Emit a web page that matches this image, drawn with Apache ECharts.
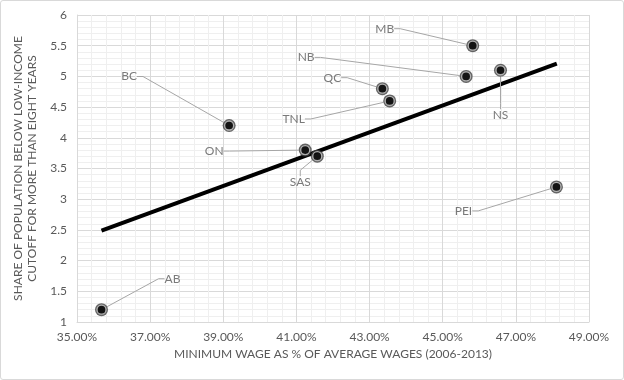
<!DOCTYPE html>
<html>
<head>
<meta charset="utf-8">
<script src="https://cdn.jsdelivr.net/npm/echarts@6/dist/echarts.min.js"></script>
<style>
html,body{margin:0;padding:0;background:#fff;}
#wrap{width:624px;height:380px;box-sizing:border-box;border:1px solid #d9d9d9;border-radius:3px;position:relative;overflow:hidden;}
#chart{position:absolute;left:-1px;top:-1px;width:624px;height:380px;}
</style>
</head>
<body>
<div id="wrap"><div id="chart"></div></div>
<script>
// Data
const provinces = ['AB', 'BC', 'ON', 'SAS', 'TNL', 'QC', 'NB', 'MB', 'NS', 'PEI'];
const minWagePct = [35.67, 39.16, 41.24, 41.57, 43.55, 43.35, 45.64, 45.82, 46.58, 48.11];
const shareLowIncome = [1.2, 4.2, 3.8, 3.7, 4.6, 4.8, 5.0, 5.5, 5.1, 3.2];
const trendX = [35.67, 48.12];
const trendY = [2.49, 5.21];
const xTicks = [35, 37, 39, 41, 43, 45, 47, 49];
const yTicks = [1, 1.5, 2, 2.5, 3, 3.5, 4, 4.5, 5, 5.5, 6];

// label offsets (layout only, px relative to point)
const labelOffsets = {
  AB: [71, -31], BC: [-100, -49], ON: [-91, 1], SAS: [-17, 26], TNL: [-96, 18],
  QC: [-50, -11], NB: [-160, -19], MB: [-88, -17], NS: [0, 45], PEI: [-93, 24]
};

const points = provinces.map((p, i) => ({ name: p, value: [minWagePct[i], shareLowIncome[i]] }));
const trend = trendX.map((x, i) => [x, trendY[i]]);

const FONT = 'Lato';
const TXT = '#595959';

const chart = echarts.init(document.getElementById('chart'), null, { renderer: 'canvas' });
chart.setOption({
  animation: false,
  textStyle: { fontFamily: FONT },
  grid: { left: 77, right: 35, top: 15, bottom: 58, containLabel: false },
  xAxis: {
    type: 'value', min: xTicks[0], max: xTicks[xTicks.length - 1], interval: 2,
    name: 'MINIMUM WAGE AS % OF AVERAGE WAGES (2006-2013)',
    nameLocation: 'middle', nameGap: 25,
    nameTextStyle: { color: TXT, fontSize: 12, fontFamily: FONT },
    axisLine: { show: true, lineStyle: { color: '#d9d9d9' } },
    axisTick: { show: false },
    axisLabel: { color: TXT, fontSize: 12, margin: 9, fontFamily: FONT,
      formatter: v => v.toFixed(2) + '%' },
    splitLine: { show: true, lineStyle: { color: '#d9d9d9', width: 1 } },
    minorTick: { show: false, splitNumber: 5 },
    minorSplitLine: { show: true, lineStyle: { color: '#efefef', width: 1 } }
  },
  yAxis: {
    type: 'value', min: yTicks[0], max: yTicks[yTicks.length - 1], interval: 0.5,
    name: 'SHARE OF POPULATION BELOW LOW-INCOME\nCUTOFF FOR MORE THAN EIGHT YEARS',
    nameLocation: 'middle', nameGap: 29, nameRotate: 90,
    nameTextStyle: { color: TXT, fontSize: 12, lineHeight: 14, fontFamily: FONT, align: 'center' },
    axisLine: { show: true, lineStyle: { color: '#d9d9d9' } },
    axisTick: { show: false },
    axisLabel: { color: TXT, fontSize: 12, margin: 10, fontFamily: FONT },
    splitLine: { show: true, lineStyle: { color: '#d9d9d9', width: 1 } },
    minorTick: { show: false, splitNumber: 5 },
    minorSplitLine: { show: true, lineStyle: { color: '#efefef', width: 1 } }
  },
  series: [
    {
      type: 'line', data: trend, symbol: 'none', z: 2,
      lineStyle: { color: '#000', width: 4 }, silent: true
    },
    {
      type: 'scatter', data: points, symbol: 'circle', symbolSize: 13, z: 3,
      itemStyle: { color: '#3f3f3f' },
      label: {
        show: true, position: 'inside', formatter: p => p.name,
        color: TXT, fontSize: 12, fontFamily: FONT
      },
      labelLine: { show: true, length2: 6, lineStyle: { color: '#a6a6a6', width: 1 } },
      labelLayout: function (params) {
        const name = provinces[params.dataIndex];
        const o = labelOffsets[name];
        return { dx: o[0], dy: o[1] };
      }
    },
    {
      type: 'scatter', data: points, symbol: 'circle', symbolSize: 9, z: 4,
      itemStyle: { color: '#000', borderColor: '#d0d0d0', borderWidth: 1.3 },
      silent: true
    }
  ]
});
</script>
</body>
</html>
